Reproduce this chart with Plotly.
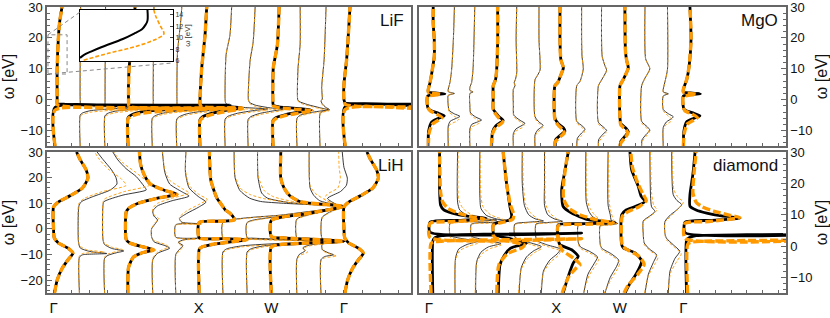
import plotly.graph_objects as go

# ---------------- data (omega [eV], spectral offset in k-spacing units) ----------------
K_LABELS = ["Γ", "X", "W", "Γ"]
K_LABEL_POS = [0, 6, 9, 12]
THICK = [0, 3, 6, 9, 12]

LIF_UP0 = [(0, .15), (10, .15), (20, .2), (25, .25), (30, .35)]
LIF_K = [
    [(-15, .06), (-2.5, .06), (-2.1, 3.0), (-1.8, 7.3), (-1.5, .5), (-1.2, .15)] + LIF_UP0,
    [(-15, .1), (-5, .1), (-4.3, .2), (-3.6, .5), (-3.0, 1.3), (-2.5, 3.2), (-2.1, 6.0), (-1.8, .4), (-1.4, .12), (0, .1), (30, .12)],
    [(-15, .12), (-5.3, .12), (-4.5, .22), (-3.8, .5), (-3.2, 1.2), (-2.7, 2.8), (-2.3, 5.0), (-2.0, .4), (-1.6, .14), (0, .13), (30, .15)],
    [(-15, .08), (-5.8, .08), (-5.0, .2), (-4.2, .5), (-3.5, 1.2), (-2.9, 2.6), (-2.5, 4.3), (-2.2, .4), (-1.8, .12), (0, .1), (10, .12), (20, .25), (30, .37)],
    [(-15, .08), (-6, .08), (-5.2, .2), (-4.4, .5), (-3.7, 1.1), (-3.1, 2.2), (-2.7, 3.5), (-2.4, .4), (-2.0, .14), (0, .12), (30, .15)],
    [(-15, .09), (-6.3, .09), (-5.5, .2), (-4.6, .5), (-3.8, 1.1), (-3.2, 1.9), (-2.9, 2.8), (-2.6, .4), (-2.2, .12), (0, .1), (15, .12), (25, .25), (30, .3)],
    [(-15, .05), (-6.5, .05), (-5.6, .15), (-4.6, .45), (-3.6, 1.0), (-2.9, 1.55), (-2.5, 1.75), (-2.2, .8), (-1.9, .1), (-1.2, .05), (0, .05), (10, .12), (21, .26), (30, .33)],
    [(-15, .09), (-6.3, .09), (-5.4, .2), (-4.4, .6), (-3.5, 1.3), (-3.0, 1.85), (-2.6, 1.0), (-2.0, .3), (-1.2, .12), (0, .09), (14.6, .13), (21, .29), (30, .36)],
    [(-15, .04), (-6.4, .04), (-5.5, .15), (-4.5, .5), (-3.6, 1.1), (-3.1, 1.5), (-2.6, .9), (-1.8, .35), (-0.9, .1), (0, .05), (12.5, .12), (18.8, .25), (30, .33)],
    [(-15, .07), (-6.7, .07), (-5.8, .2), (-4.8, .6), (-3.9, 1.25), (-3.3, 1.65), (-2.9, 1.2), (-2.3, .3), (-1.8, .08), (0, .06), (10.3, .08), (17.8, .25), (30, .32)],
    [(-15, .06), (-6, .06), (-5.0, .2), (-4.2, .6), (-3.6, 1.1), (-3.3, 1.35), (-2.6, 1.0), (-1.6, .5), (-0.6, .15), (0, .09), (10, .1), (18, .19), (30, .19)],
    [(-15, .01), (-4.5, .01), (-3.8, .1), (-3.2, .4), (-2.5, .25), (-1.3, .1), (-0.3, .05), (0, .1), (4, .08), (13, .18), (30, .26)],
    [(-15, .05), (-2.3, .05), (-1.9, 3.0), (-1.6, 7.3), (-1.3, .5), (-1.0, .05), (0, .0), (5, .0), (13, .11), (21, .18), (30, .25)],
]
LIF_O = [
    [(-15, .06), (-3.4, .06), (-3.0, 3.0), (-2.7, 7.8), (-2.3, .6), (-1.6, .15)] + LIF_UP0,
    [(-15, .1), (-5.5, .1), (-4.8, .2), (-4.1, .5), (-3.5, 1.3), (-3.0, 3.2), (-2.6, 6.2), (-2.2, .4), (-1.7, .12), (0, .1), (30, .12)],
    [(-15, .12), (-5.8, .12), (-5.0, .22), (-4.3, .5), (-3.7, 1.2), (-3.2, 2.8), (-2.8, 5.2), (-2.5, .4), (-2.0, .14), (0, .13), (30, .15)],
    [(-15, .08), (-6.2, .08), (-5.4, .2), (-4.6, .5), (-3.9, 1.2), (-3.3, 2.6), (-2.9, 4.5), (-2.6, .4), (-2.1, .12), (0, .1), (10, .12), (20, .25), (30, .37)],
    [(-15, .08), (-6.4, .08), (-5.6, .2), (-4.8, .5), (-4.1, 1.1), (-3.5, 2.2), (-3.1, 3.6), (-2.8, .4), (-2.3, .14), (0, .12), (30, .15)],
    [(-15, .09), (-6.7, .09), (-5.9, .2), (-5.0, .5), (-4.2, 1.1), (-3.6, 1.9), (-3.3, 2.9), (-3.0, .4), (-2.5, .12), (0, .1), (15, .12), (25, .25), (30, .3)],
    [(-15, .05), (-6.9, .05), (-6.0, .15), (-5.0, .45), (-4.0, 1.0), (-3.3, 1.55), (-2.9, 1.8), (-2.6, .8), (-2.2, .1), (-1.4, .05), (0, .05), (10, .12), (21, .26), (30, .33)],
    [(-15, .09), (-6.7, .09), (-5.8, .2), (-4.8, .6), (-3.9, 1.3), (-3.4, 1.85), (-3.0, 1.0), (-2.4, .3), (-1.5, .12), (0, .09), (14.6, .13), (21, .29), (30, .36)],
    [(-15, .04), (-6.8, .04), (-5.9, .15), (-4.9, .5), (-4.0, 1.1), (-3.5, 1.5), (-3.0, .9), (-2.2, .35), (-1.2, .1), (0, .05), (12.5, .12), (18.8, .25), (30, .33)],
    [(-15, .07), (-7.0, .07), (-6.1, .2), (-5.1, .6), (-4.2, 1.25), (-3.6, 1.7), (-3.2, 1.2), (-2.6, .3), (-2.0, .08), (0, .06), (10.3, .08), (17.8, .25), (30, .32)],
    [(-15, .06), (-6.3, .06), (-5.3, .2), (-4.5, .6), (-3.9, 1.1), (-3.6, 1.35), (-2.9, 1.0), (-1.9, .5), (-0.9, .15), (0, .09), (10, .1), (18, .19), (30, .19)],
    [(-15, .01), (-4.8, .01), (-4.1, .1), (-3.5, .4), (-2.8, .25), (-1.6, .1), (-0.5, .05), (0, .1), (4, .08), (13, .18), (30, .26)],
    [(-15, .05), (-3.2, .05), (-2.8, 3.0), (-2.5, 7.8), (-2.1, .5), (-1.5, .05), (0, .0), (5, .0), (13, .11), (21, .18), (30, .25)],
]

MGO_K = [
    [(-15, -.03), (-10.4, -.02), (-7.2, .13), (-6.0, .45), (-5.2, .72), (-4.4, .45), (-3.4, .05), (-2.4, -.06), (1.2, -.06), (1.9, .75), (2.5, -.03), (3.4, -.03), (5.5, .05), (9.8, .16), (14, .25), (19.4, .25), (24.7, .2), (30, .2)],
    [(-15, -.09), (-8.5, -.09), (-7, 0), (-6, .3), (-5.4, .46), (-4.6, .2), (-3.5, -.05), (-2, -.09), (1.4, -.09), (2.0, .2), (2.6, -.09), (3.4, -.09), (5.5, -.01), (9.8, .07), (19.4, .15), (30, .2)],
    [(-15, -.07), (-9.5, -.07), (-8, .02), (-7.2, .3), (-6.6, .48), (-5.6, .2), (-4.3, -.04), (-2, -.07), (2.0, -.07), (2.5, .08), (3, -.07), (4, -.07), (5.5, .01), (10, .08), (30, .16)],
    [(-15, -.05), (-10.4, .0), (-8.5, .15), (-7.3, .4), (-6.7, .5), (-5.5, .3), (-3, .03), (0.5, .03), (4.5, .03), (6.5, .14), (9.4, .19), (19, .24), (30, .24)],
    [(-15, -.02), (-11, -.02), (-9.5, .1), (-8.3, .4), (-7.7, .53), (-6.7, .3), (-5, .0), (-2, -.02), (3.4, -.02), (4.5, .06), (5.5, .02), (6.6, .08), (8.7, .14), (19.4, .11), (30, .14)],
    [(-15, 0), (-11.5, 0), (-10, .1), (-8.9, .3), (-8.3, .39), (-7.3, .2), (-5.5, 0), (6.4, 0), (8.0, .13), (9.6, .24), (19.4, .19), (30, .19)],
    [(-15, -.06), (-13, -.03), (-11.5, .2), (-10.2, .41), (-9.2, .35), (-7.8, .1), (-6, -.06), (4.5, -.06), (5.5, .07), (8.7, .26), (10.3, .34), (13, .22), (19.4, .18), (30, .18)],
    [(-15, -.03), (-12.5, 0), (-10.8, .2), (-9.6, .36), (-8.6, .25), (-7, -.03), (4.5, -.03), (6, .13), (10, .28), (14, .22), (19.4, .2), (30, .2)],
    [(-15, -.01), (-13, 0), (-11.2, .2), (-10, .38), (-9, .25), (-7.3, -.01), (4.5, -.01), (6, .11), (9.5, .38), (11, .3), (14, .17), (30, .14)],
    [(-15, .01), (-13.5, .05), (-11.8, .25), (-10.4, .4), (-9.3, .3), (-7.8, .05), (-6, .01), (4.5, .01), (6.6, .17), (10.3, .4), (12.5, .33), (15.5, .27), (30, .24)],
    [(-15, .03), (-13, .05), (-11.2, .25), (-9.9, .42), (-8.8, .3), (-7, .03), (4.5, .03), (7, .19), (10, .42), (13.2, .22), (30, .19)],
    [(-15, .05), (-9, .05), (-7.2, .2), (-6.1, .45), (-5.5, .52), (-4.6, .3), (-3.2, .05), (1.2, .05), (1.9, .29), (2.5, .05), (3.4, .05), (6.6, .16), (9.8, .25), (30, .25)],
    [(-15, 0), (-10.4, .02), (-7.2, .15), (-6.0, .5), (-5.2, .78), (-4.4, .5), (-3.4, .07), (-2.4, 0), (1.2, 0), (1.9, .8), (2.5, 0), (3.4, 0), (6.6, .16), (10.8, .27), (19.4, .36), (30, .31)],
]
MGO_O = [
    [(-15, -.03), (-11, 0), (-8, .15), (-6.6, .45), (-5.8, .62), (-4.8, .4), (-3.6, .05), (-2.4, -.06), (1.0, -.06), (1.7, .55), (2.4, -.03), (3.4, -.03), (5.5, .05), (9.8, .16), (14, .25), (19.4, .25), (24.7, .2), (30, .2)],
    [(-15, -.09), (-9.5, -.09), (-8, 0), (-7, .3), (-6.4, .4), (-5.4, .2), (-4, -.05), (-2, -.09), (1.3, -.09), (1.9, .12), (2.5, -.09), (3.4, -.09), (5.5, -.01), (9.8, .07), (19.4, .15), (30, .2)],
    [(-15, -.07), (-10.2, -.07), (-8.8, .02), (-7.9, .3), (-7.3, .42), (-6.2, .2), (-4.8, -.04), (-2, -.07), (2.0, -.07), (2.5, .05), (3, -.07), (4, -.07), (5.5, .01), (10, .08), (30, .16)],
    [(-15, -.05), (-11, .0), (-9, .15), (-7.8, .4), (-7.2, .48), (-6, .3), (-3.3, .03), (0.5, .03), (4.5, .03), (6.5, .14), (9.4, .19), (19, .24), (30, .24)],
    [(-15, -.02), (-11.8, -.02), (-10.2, .1), (-9, .4), (-8.3, .48), (-7.2, .3), (-5.5, .0), (-2, -.02), (3.4, -.02), (4.5, .06), (5.5, .02), (6.6, .08), (8.7, .14), (19.4, .11), (30, .14)],
    [(-15, 0), (-12, 0), (-10.6, .1), (-9.5, .3), (-8.9, .35), (-7.8, .2), (-6, 0), (6.4, 0), (8.0, .13), (9.6, .24), (19.4, .19), (30, .19)],
    [(-15, -.06), (-13.5, -.03), (-12, .2), (-10.8, .38), (-9.8, .32), (-8.3, .1), (-6.4, -.06), (4.5, -.06), (5.5, .07), (8.7, .26), (10.3, .34), (13, .22), (19.4, .18), (30, .18)],
    [(-15, -.03), (-13.5, 0), (-11.6, .2), (-10.4, .33), (-9.2, .25), (-7.5, -.03), (4.5, -.03), (6, .13), (10, .28), (14, .22), (19.4, .2), (30, .2)],
    [(-15, -.01), (-13.8, 0), (-12, .2), (-10.8, .35), (-9.6, .25), (-7.8, -.01), (4.5, -.01), (6, .11), (9.5, .38), (11, .3), (14, .17), (30, .14)],
    [(-15, .01), (-14, .05), (-12.3, .25), (-10.9, .38), (-9.8, .3), (-8.2, .05), (-6, .01), (4.5, .01), (6.6, .17), (10.3, .4), (12.5, .33), (15.5, .27), (30, .24)],
    [(-15, .03), (-13.6, .05), (-11.8, .25), (-10.5, .38), (-9.4, .3), (-7.5, .03), (4.5, .03), (7, .19), (10, .42), (13.2, .22), (30, .19)],
    [(-15, .05), (-9.8, .05), (-8, .2), (-7, .42), (-6.4, .46), (-5.4, .3), (-3.6, .05), (1.1, .05), (1.8, .2), (2.4, .05), (3.4, .05), (6.6, .16), (9.8, .25), (30, .25)],
    [(-15, 0), (-11, .04), (-8, .17), (-6.6, .5), (-5.8, .66), (-4.8, .45), (-3.6, .07), (-2.4, 0), (1.0, 0), (1.7, .6), (2.4, 0), (3.4, 0), (6.6, .16), (10.8, .27), (19.4, .36), (30, .31)],
]

LIH_G = [(-25, .04), (-20, .15), (-15.5, .35), (-12, .6), (-9.5, .8), (-7.5, .6), (-5.5, .2), (-3.5, .03), (0, 0), (8.5, 0), (10.5, .2), (13, .7), (16, 1.2), (19.8, 1.42), (23, 1.35), (27, 1.1), (30, .95)]
LIH_X = [(-25, .02), (-8, .02), (-7, .15), (-6, .6), (-5, 1.4), (-4.2, 2.0), (-3.8, 1.0), (-3.5, .02), (2.5, .02), (3.0, .9), (3.5, 1.47), (4.3, 1.45), (6, 1.3), (7.4, 1.1), (10, .9), (12, .75), (19, .5), (30, .44)]
LIH_M = [(-25, .07), (-15, .1), (-11, .3), (-9.2, .7), (-8.2, 1.15), (-7, .7), (-5.5, .15), (-4, 0), (6.5, 0), (8, .1), (10, .5), (12, 1.3), (13.5, 2.1), (15, 1.6), (17.5, 1.0), (21, .75), (25, .6), (30, .55)]
LIH_W = [(-25, 0), (-7, 0), (-6.2, .3), (-5.5, 1.5), (-4.8, 3.0), (-4.2, 2.0), (-3.5, .5), (-3.0, 0), (3.3, 0), (6, 1.5), (8.8, 3.0), (9.3, 2.6), (10.6, 1.2), (13, .75), (15.9, .53), (19.8, .39), (30, .39)]
LIH_K = [
    LIH_G,
    [(-25, .07), (-11, .07), (-10.1, .2), (-9.6, 1.2), (-8.8, .5), (-7.4, .1), (-5, .03), (9, .05), (10.6, .15), (12.5, .6), (15.2, 1.35), (17.5, 1.62), (20, 1.58), (23, 1.4), (27, 1.05), (30, .8)],
    [(-25, .11), (-11.5, .11), (-10.3, .25), (-9.3, .6), (-8.6, .9), (-7.6, .4), (-6, .1), (-4, .04), (9, .04), (10.6, .08), (13.2, .87), (15.2, 1.83), (16.5, 1.75), (20.4, 1.42), (23.5, 1.0), (26.9, .66), (30, .45)],
    LIH_M,
    [(-25, .1), (-12, .1), (-9.5, .3), (-7.5, .8), (-6.5, .6), (-5, .15), (-3, .05), (0, .05), (2, .2), (3.5, .3), (5, .15), (7, .1), (9, .3), (11, .9), (12.8, 1.6), (14.5, 1.3), (17.5, .8), (22, .6), (30, .5)],
    [(-25, .05), (-10, .05), (-8, .2), (-6.5, .35), (-5.2, .15), (-4.2, .4), (-3.6, 1.1), (-3.2, .05), (1.6, .05), (2.0, 1.1), (2.6, .3), (4, .2), (6, .5), (8.5, 1.0), (10.5, 1.3), (12.5, 1.0), (16, .6), (22, .45), (30, .47)],
    LIH_X,
    [(-25, 0), (-9, 0), (-7.8, .15), (-6.6, .8), (-5.6, 2.5), (-5.0, 5.0), (-4.3, 2.5), (-3.6, .2), (-3.5, 0), (2.5, 0), (5.5, 2.5), (8.8, 5.0), (9.3, 4.0), (10, 2.5), (10.7, 1.56), (12, 1.1), (15, .7), (20, .5), (30, .46)],
    [(-25, 0), (-9, 0), (-7.8, .15), (-6.6, .7), (-5.6, 2.0), (-5.0, 4.0), (-4.3, 2.0), (-3.6, .2), (-3.5, 0), (2.5, 0), (5.5, 2.0), (8.8, 4.0), (9.3, 3.2), (10.2, 1.8), (12, .84), (14, .6), (20, .45), (30, .43)],
    LIH_W,
    [(-25, .05), (-12, .05), (-10, .15), (-8.5, .4), (-7.4, .3), (-6.5, .5), (-5.5, 1.2), (-5.0, 2.0), (-4.4, 1.2), (-3.8, .2), (-3.5, .05), (3.8, .05), (6.5, 1.0), (8.8, 2.0), (9.5, 1.6), (11, 1.0), (13, .76), (16, .6), (30, .56)],
    [(-25, .05), (-12, .05), (-10.8, .2), (-10.1, .57), (-9.3, .35), (-8, .1), (-6, .1), (-5.3, .6), (-5.0, 1.0), (-4.5, .6), (-3.8, .1), (4.5, .1), (7, .5), (8.8, 1.0), (9.5, .7), (11.9, .32), (14.6, .86), (17, 1.1), (19.8, 1.14), (24, 1.0), (30, .93)],
    LIH_G,
]
LIH_O = [
    LIH_G,
    [(-25, .07), (-10.5, .07), (-9.6, .2), (-9.0, 1.1), (-8.2, .4), (-6.8, .1), (-5, .03), (10, .05), (12, .3), (14.5, 1.0), (17, 2.0), (19.5, 1.8), (23, 1.3), (27, .9), (30, .7)],
    [(-25, .11), (-11, .11), (-9.8, .25), (-8.8, .6), (-8.1, .85), (-7.1, .4), (-5.6, .1), (-4, .04), (10, .04), (11.6, .1), (14.5, .9), (17, 1.95), (18.5, 1.85), (22, 1.4), (25.5, .9), (28.5, .6), (30, .5)],
    LIH_M,
    [(-25, .1), (-11.5, .1), (-9, .3), (-7, .75), (-6, .6), (-4.5, .15), (-3, .05), (0, .05), (2.5, .2), (4, .35), (5.5, .15), (8, .1), (10, .3), (12, .9), (14, 1.6), (15.8, 1.3), (19, .8), (23, .6), (30, .5)],
    [(-25, .05), (-10.5, .05), (-8.5, .2), (-7, .35), (-5.6, .15), (-4.4, .4), (-3.8, 1.1), (-3.4, .05), (1.4, .05), (1.8, 1.1), (2.4, .3), (4.5, .2), (7, .5), (9.5, 1.0), (11.5, 1.35), (13.5, 1.0), (17, .6), (23, .45), (30, .47)],
    LIH_X,
    [(-25, 0), (-9.5, 0), (-8.2, .15), (-7.0, .8), (-5.9, 2.5), (-5.2, 5.0), (-4.5, 2.5), (-3.8, .2), (-3.6, 0), (2.3, 0), (5.4, 2.5), (8.6, 5.0), (9.1, 4.0), (10.2, 2.8), (11.8, 1.7), (13.5, 1.1), (16, .7), (21, .5), (30, .46)],
    [(-25, 0), (-9.5, 0), (-8.2, .15), (-7, .7), (-5.9, 2.0), (-5.2, 4.0), (-4.5, 2.0), (-3.8, .2), (-3.6, 0), (2.3, 0), (5.4, 2.0), (8.6, 4.0), (9.1, 3.2), (10.5, 2.0), (12.5, 1.1), (15, .7), (21, .45), (30, .43)],
    LIH_W,
    [(-25, .05), (-12.5, .05), (-10.5, .15), (-9, .5), (-7.8, .3), (-6.8, .5), (-5.8, 1.2), (-5.2, 2.0), (-4.6, 1.2), (-3.9, .2), (-3.6, .05), (3.6, .05), (6.4, 1.0), (8.6, 2.0), (9.4, 1.7), (11.5, 1.2), (14, .8), (17, .6), (30, .56)],
    [(-25, .05), (-12.5, .05), (-11.3, .2), (-10.6, .7), (-9.6, .35), (-8.3, .1), (-6, .1), (-5.4, .6), (-5.1, 1.0), (-4.6, .6), (-3.9, .1), (4.3, .1), (6.8, .5), (8.6, 1.0), (9.3, .7), (11.5, .2), (13.5, .3), (16, .75), (19.8, .85), (24, .8), (30, .78)],
    LIH_G,
]

DIA_K = [
    [(-15, .18), (1.5, .18), (2.5, .25), (3.3, .6), (3.8, 3.0), (4.1, 7.2), (4.4, .05), (7.6, .05), (8.2, 1.5), (8.9, 2.7), (9.5, 1.8), (10.5, 1.1), (11.5, .7), (13, .55), (18, .5), (30, .5)],
    [(-15, .23), (-4, .25), (-1, .4), (0.5, .8), (1.5, 1.3), (2.3, .6), (3.0, .1), (3.3, .0), (7.3, 0), (7.8, 1.0), (8.3, 2.2), (8.8, 1.4), (9.8, .8), (11.5, .45), (14, .35), (30, .35)],
    [(-15, .2), (-5, .25), (-2, .45), (-0.3, .8), (0.8, 1.4), (1.8, .7), (2.8, .1), (3.2, 0), (7.0, 0), (7.5, .9), (8.0, 1.8), (8.6, 1.2), (9.8, .7), (12, .45), (16, .4), (30, .4)],
    [(-15, .27), (-6, .35), (-3, .55), (-0.7, .85), (0.9, 1.6), (2.2, .9), (3.2, .25), (3.9, .05), (6.8, .03), (7.4, .2), (8.3, .8), (9.5, .9), (12.6, .82), (20, .66), (30, .5)],
    [(-15, .25), (-7, .35), (-3.5, .6), (-1.5, .95), (-0.2, 1.3), (1.0, .8), (2.2, .2), (3.0, .05), (7.0, .05), (7.6, .7), (8.0, 1.4), (8.7, 1.0), (10, .7), (13, .5), (20, .4), (30, .4)],
    [(-15, .3), (-8, .4), (-4.5, .7), (-2.5, 1.05), (-1, 1.2), (0.3, .6), (1.5, .15), (2.5, .05), (7.0, .05), (7.5, .6), (7.9, 1.3), (8.7, .9), (10, .6), (13, .45), (20, .45), (30, .45)],
    [(-15, .33), (-9.7, .57), (-5.4, .81), (-3.3, 1.04), (-1.2, .73), (.4, .18), (2.1, .1), (6.8, .1), (7.1, 1.2), (7.5, 2.77), (8.4, 1.51), (10.5, .73), (12.6, .33), (18, .26), (24.3, .42), (30, .57)],
    [(-15, .3), (-9, .5), (-5.5, .8), (-3.5, .95), (-1.8, .6), (-0.3, .15), (1, .05), (6.8, .05), (7.1, .8), (7.4, 1.7), (8.2, 1.0), (9.5, .7), (11, .55), (14, .42), (30, .4)],
    [(-15, .3), (-10, .55), (-6.5, .85), (-4.5, .95), (-2.5, .6), (-0.7, .15), (0.5, .08), (6.5, .08), (6.8, .5), (7.2, .9), (8.2, .6), (10, .55), (13, .45), (30, .45)],
    [(-15, .25), (-12.9, .4), (-8.6, .8), (-4.8, 1.03), (-2.2, .72), (-.6, .17), (.4, .09), (10, .09), (11.5, .3), (12.6, .72), (14.2, 1.19), (16, 1.0), (19.1, .87), (24.3, .56), (30, .48)],
    [(-15, .19), (-9, .35), (-5, .6), (-2.8, .74), (-1, .4), (1, .15), (3.5, .11), (8, .11), (9.5, .4), (11, .66), (12.5, .5), (16, .45), (30, .42)],
    [(-15, .29), (-8, .37), (-4, .6), (-1.7, .83), (0.4, .52), (2.5, .2), (4, .13), (7.8, .13), (10, .4), (11, .6), (13.2, .92), (14.5, .7), (16.4, .52), (30, .45)],
    [(-15, .15), (1.8, .15), (2.6, .25), (3.3, .6), (3.6, 3.0), (3.8, 7.2), (4.2, .08), (7.6, .08), (8.2, 1.3), (8.9, 2.67), (9.6, 1.8), (10.5, 1.1), (11.5, .6), (12.7, .31), (16.4, .31), (23, .45), (30, .55)],
]
DIA_O = [
    [(-15, .1), (0.8, .1), (1.4, .3), (1.9, 2.5), (2.3, 7.2), (2.7, .05), (7.2, .05), (7.8, 1.2), (8.6, 2.6), (9.3, 2.0), (10.5, 1.4), (12, .9), (14, .65), (17, .55), (30, .5)],
    [(-15, .23), (-4.5, .25), (-1.5, .45), (0, .9), (0.9, 1.3), (1.8, .6), (2.5, .1), (2.8, .0), (7.0, 0), (7.6, 1.0), (8.1, 2.1), (8.8, 1.6), (10, 1.0), (12, .6), (15, .4), (30, .38)],
    [(-15, .18), (-5.5, .25), (-2.5, .5), (-0.8, .9), (0.3, 1.4), (1.3, .7), (2.3, .1), (2.7, 0), (6.8, 0), (7.3, .9), (7.9, 1.7), (8.7, 1.4), (10, .9), (12.5, .55), (16, .45), (30, .42)],
    [(-15, .2), (-6, .3), (-2.5, .7), (-0.5, 1.4), (0.3, 1.5), (1.5, .8), (2.5, .15), (3.5, .03), (6.5, .03), (7.3, .3), (8.5, .95), (10, 1.0), (13, .85), (20, .66), (30, .5)],
    [(-15, .22), (-7.5, .35), (-4, .65), (-2, 1.0), (-0.8, 1.3), (0.5, .8), (1.8, .2), (2.6, .05), (6.8, .05), (7.4, .7), (7.9, 1.3), (8.8, 1.1), (10.5, .8), (13.5, .55), (20, .45), (30, .42)],
    [(-15, .27), (-8.5, .4), (-5, .75), (-3, 1.1), (-1.6, 1.2), (-0.2, .6), (1.0, .15), (2.0, .05), (6.8, .05), (7.3, .6), (7.8, 1.2), (8.8, 1.0), (10.5, .7), (13.5, .5), (20, .47), (30, .47)],
    [(-15, .28), (-9.7, .6), (-7, .95), (-6, 1.12), (-4, .85), (-1.5, .3), (1.5, .1), (6.5, .1), (6.9, 1.2), (7.4, 2.7), (8.4, 1.9), (10, 1.1), (12, .6), (15, .35), (20, .35), (30, .55)],
    [(-15, .28), (-9.5, .55), (-6.2, .85), (-4.3, 1.0), (-2.5, .65), (-0.8, .15), (0.5, .05), (6.6, .05), (6.9, .8), (7.3, 1.6), (8.3, 1.1), (10, .8), (12, .6), (15, .45), (30, .42)],
    [(-15, .27), (-10.5, .6), (-7.2, .9), (-5.3, 1.0), (-3.2, .65), (-1.2, .15), (0.2, .08), (6.3, .08), (6.6, .5), (7.1, .85), (8.4, .7), (10.5, .6), (14, .5), (30, .47)],
    [(-15, .2), (-12.5, .4), (-9, .85), (-5.8, 1.15), (-3, .85), (-1, .3), (.2, .12), (9.5, .12), (11, .4), (12.5, .9), (14.5, 1.25), (16.5, 1.1), (20, .85), (25, .6), (30, .52)],
    [(-15, .17), (-9.5, .35), (-5.8, .65), (-3.6, .8), (-1.6, .45), (0.5, .15), (3.2, .11), (7.8, .11), (9.5, .45), (11.5, .75), (13, .6), (17, .5), (30, .45)],
    [(-15, .26), (-8.5, .4), (-4.8, .7), (-2.5, .9), (-0.5, .6), (1.8, .22), (3.6, .13), (7.5, .13), (9.8, .45), (11.5, .7), (14, 1.0), (15.5, .75), (18, .55), (30, .47)],
    [(-15, .2), (0.5, .2), (1.2, .35), (1.7, 2.5), (2.0, 7.2), (2.4, .08), (7.2, .08), (7.8, 1.2), (9.1, 2.67), (9.8, 2.2), (11, 1.5), (12.5, .9), (14, .6), (17, .45), (23, .5), (30, .6)],
]

INSET_K = [(6.5, -.02), (7.0, .02), (7.6, .1), (8.4, .22), (9.8, .45), (10.8, .58), (11.5, .66), (12.3, .70), (13, .72), (14.85, .72)]
INSET_O = [(6.1, .02), (7.3, .29), (8.4, .57), (9.8, .82), (10.7, .9), (12.1, .86), (13.8, .81), (14.85, .79)]

PANELS = [
    ("LiF", LIF_K, LIF_O, "x", "y"),
    ("MgO", MGO_K, MGO_O, "x2", "y2"),
    ("LiH", LIH_K, LIH_O, "x3", "y3"),
    ("diamond", DIA_K, DIA_O, "x4", "y4"),
]

# ---------------- figure ----------------
ORANGE = "#FF9900"
FONT = "Liberation Sans, Arial, sans-serif"
W, H = 830, 318

fig = go.Figure()


def add_curves(curves, idxs, color, width, dash, xa, ya):
    for i in idxs:
        pts = curves[i]
        fig.add_trace(go.Scatter(
            x=[i + d for _, d in pts], y=[w for w, _ in pts], mode="lines",
            line=dict(color=color, width=width, dash=dash, shape="spline", smoothing=0.6),
            xaxis=xa, yaxis=ya, hoverinfo="skip", showlegend=False))


for name, ck, co, xa, ya in PANELS:
    thin = [i for i in range(len(ck)) if i not in THICK]
    add_curves(ck, thin, "#222222", 0.9, "solid", xa, ya)
    add_curves(co, thin, ORANGE, 0.9, "3px,2px", xa, ya)
    add_curves(ck, THICK, "black", 2.8, "solid", xa, ya)
    add_curves(co, THICK, ORANGE, 3.4, "8px,3px", xa, ya)

# inset
fig.add_trace(go.Scatter(x=[d for _, d in INSET_K], y=[w for w, _ in INSET_K], mode="lines",
                         line=dict(color="black", width=2, shape="spline"), xaxis="x5", yaxis="y5",
                         hoverinfo="skip", showlegend=False))
fig.add_trace(go.Scatter(x=[d for _, d in INSET_O], y=[w for w, _ in INSET_O], mode="lines",
                         line=dict(color=ORANGE, width=1.6, dash="4px,2px", shape="spline"),
                         xaxis="x5", yaxis="y5", hoverinfo="skip", showlegend=False))


def px_dom_x(a, b):
    return [a / W, b / W]


def px_dom_y(top, bot):
    return [1 - bot / H, 1 - top / H]


FRAME = "#666666"
LEFT_X = px_dom_x(47, 411)
RIGHT_X = px_dom_x(419, 786)
TOP_Y = px_dom_y(7, 146)
BOT_Y = px_dom_y(152, 293)
LEFT_RANGE = [-0.27, 14.77]
RIGHT_RANGE = [-0.47, 16.84]

common_x = dict(showgrid=False, zeroline=False, showline=True, mirror=True, linecolor=FRAME,
                linewidth=1.5, ticks="", tickmode="array", tickvals=K_LABEL_POS, automargin=False,
                minor=dict(ticks="inside", ticklen=3, dtick=0.75, tick0=0, tickcolor=FRAME),
                tickfont=dict(family=FONT, size=15, color="#111"))
common_y = dict(showgrid=False, zeroline=False, showline=True, mirror=True, linecolor=FRAME,
                linewidth=1.5, ticks="inside", ticklen=5, tickcolor=FRAME, dtick=10, automargin=False,
                ticklabeloverflow="allow",
                minor=dict(ticks="inside", ticklen=3, dtick=2, tickcolor=FRAME),
                tickfont=dict(family=FONT, size=13, color="#111"),
                title=dict(text="ω [eV]", font=dict(family=FONT, size=16, color="#111"), standoff=6))

fig.update_layout(
    width=W, height=H, margin=dict(l=0, r=0, t=0, b=0, autoexpand=False),
    paper_bgcolor="white", plot_bgcolor="white", showlegend=False,
    xaxis=dict(common_x, domain=LEFT_X, range=LEFT_RANGE, anchor="y", showticklabels=False),
    yaxis=dict(common_y, domain=TOP_Y, range=[-15, 30], anchor="x"),
    xaxis2=dict(common_x, domain=RIGHT_X, range=RIGHT_RANGE, anchor="y2", showticklabels=False),
    yaxis2=dict(common_y, domain=TOP_Y, range=[-15, 30], anchor="x2", side="right"),
    xaxis3=dict(common_x, domain=LEFT_X, range=LEFT_RANGE, anchor="y3", ticktext=K_LABELS),
    yaxis3=dict(common_y, domain=BOT_Y, range=[-25, 30], anchor="x3"),
    xaxis4=dict(common_x, domain=RIGHT_X, range=RIGHT_RANGE, anchor="y4", ticktext=K_LABELS),
    yaxis4=dict(common_y, domain=BOT_Y, range=[-15, 30], anchor="x4", side="right"),
    xaxis5=dict(domain=px_dom_x(80, 173), range=[-0.02, 1.0], anchor="y5", showgrid=False,
                zeroline=False, showline=True, mirror=True, linecolor="black", linewidth=1,
                showticklabels=False, ticks="", automargin=False),
    yaxis5=dict(domain=px_dom_y(10, 61), range=[5.96, 14.85], anchor="x5", side="right",
                showgrid=False, zeroline=False, showline=True, mirror=True, linecolor="black",
                linewidth=1, ticks="inside", ticklen=3, tickvals=[6, 8, 10, 12, 14], automargin=False,
                tickfont=dict(family=FONT, size=7, color="#333"),
                title=dict(text="ω [eV]", font=dict(family=FONT, size=8, color="#333"), standoff=2)),
)

for name, xr, yr in [("LiF", "x domain", "y domain"), ("MgO", "x2 domain", "y2 domain"),
                     ("LiH", "x3 domain", "y3 domain"), ("diamond", "x4 domain", "y4 domain")]:
    fig.add_annotation(text=name, xref=xr, yref=yr, x=0.985, y=0.985, xanchor="right", yanchor="top",
                       showarrow=False, font=dict(family=FONT, size=17, color="#111"))

# zoom box and connectors for the inset (LiF axes coordinates)
GRAY = "#888888"
fig.add_shape(type="rect", xref="x", yref="y", x0=-0.23, x1=0.56, y0=8.3, y1=21,
              line=dict(color=GRAY, width=1, dash="4px,3px"), layer="above")
fig.add_shape(type="line", xref="x", yref="y", x0=-0.23, y0=21, x1=1.1, y1=28.4,
              line=dict(color=GRAY, width=1, dash="4px,3px"), layer="above")
fig.add_shape(type="line", xref="x", yref="y", x0=-0.23, y0=8.3, x1=4.94, y1=11.9,
              line=dict(color=GRAY, width=1, dash="4px,3px"), layer="above")

# the page body has a default 8px margin; remove it so the figure fills the window exactly
fig.write_html("out.html", config={"displayModeBar": False},
               post_script="document.body.style.margin='0';document.body.style.overflow='hidden';")
